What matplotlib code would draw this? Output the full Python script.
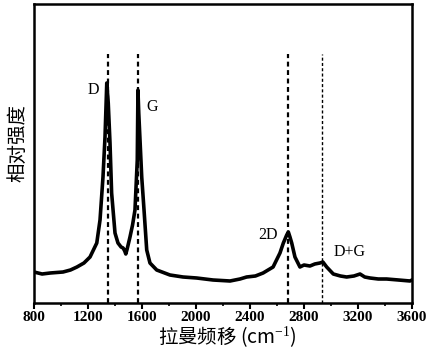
import matplotlib
matplotlib.use("Agg")
import matplotlib.pyplot as plt
from matplotlib.ticker import MultipleLocator

wavenumber = [800, 860, 920, 1015, 1070, 1118, 1170, 1215, 1265, 1289, 1311, 1326,
              1339, 1350, 1363, 1375, 1400, 1422, 1445, 1460, 1472, 1480, 1490,
              1511, 1530, 1548, 1565, 1570, 1576, 1598, 1615, 1635, 1659, 1709,
              1807, 1904, 2005, 2126, 2252, 2326, 2375, 2440, 2497, 2571, 2622,
              2647, 2672, 2684, 2696, 2709, 2733, 2770, 2800, 2844, 2880, 2918,
              2940, 2968, 3017, 3070, 3116, 3170, 3215, 3250, 3289, 3350, 3412,
              3500, 3585, 3600]
intensity = [31, 29, 30, 31, 33, 36, 40, 46, 60, 83, 126, 166,
             220, 200, 160, 110, 70, 60, 56, 55, 52, 49, 54,
             66, 78, 93, 143, 213, 190, 126, 93, 53, 40, 33,
             28, 26, 25, 23, 22, 24, 26, 27, 30, 36, 50,
             60, 68, 71, 66, 60, 46, 36, 38, 37, 39, 40,
             41, 36, 29, 27, 26, 27, 29, 26, 25, 24, 24,
             23, 22, 23]

peak_lines = [1346, 1570, 2679, 2933]
peak_labels = ["D", "G", "2D", "D+G"]
label_x = [1237, 1674, 2533, 3141]
label_y = [213, 196, 68, 51]

serif = ["Liberation Serif", "Noto Sans CJK SC"]
cjk = ["Noto Sans CJK SC", "Liberation Serif"]

plt.rcParams["mathtext.fontset"] = "custom"
plt.rcParams["mathtext.rm"] = "Liberation Serif"

fig = plt.figure(figsize=(4.29, 3.55), dpi=100)
ax = fig.add_axes([34 / 429, 1 - 303 / 355, 378 / 429, 299 / 355])

ax.plot(wavenumber, intensity, color="black", lw=2.6)

# lignes pointillées des pics
for i, x in enumerate(peak_lines):
    lw = 1.0 if i == 3 else 1.6
    ax.vlines(x, 0, 249, colors="black", linestyles=(0, (2.2, 1.6)), lw=lw)

for txt, x, y in zip(peak_labels, label_x, label_y):
    ax.text(x, y, txt, ha="center", va="center", fontsize=11.5, family=serif)

ax.set_xlim(800, 3600)
ax.set_ylim(0, 299)
ax.xaxis.set_major_locator(MultipleLocator(400))
ax.xaxis.set_minor_locator(MultipleLocator(200))
ax.set_yticks([])
ax.tick_params(axis="x", which="major", length=4, width=1.5, pad=2, labelsize=11)
ax.tick_params(axis="x", which="minor", length=2, width=1.2)
for lab in ax.get_xticklabels():
    lab.set_family(serif)
    lab.set_fontweight("bold")
for s in ax.spines.values():
    s.set_linewidth(1.8)

fig.text(18 / 429, 1 - 143 / 355, "相对强度", rotation=90, ha="center", va="center",
         fontsize=14, family=cjk)
fig.text(227 / 429, 1 - 338 / 355, r"拉曼频移 (cm$^{\mathrm{-1}}$)", ha="center", va="center",
         fontsize=14, family=cjk)

fig.savefig("out.png", dpi=100)
